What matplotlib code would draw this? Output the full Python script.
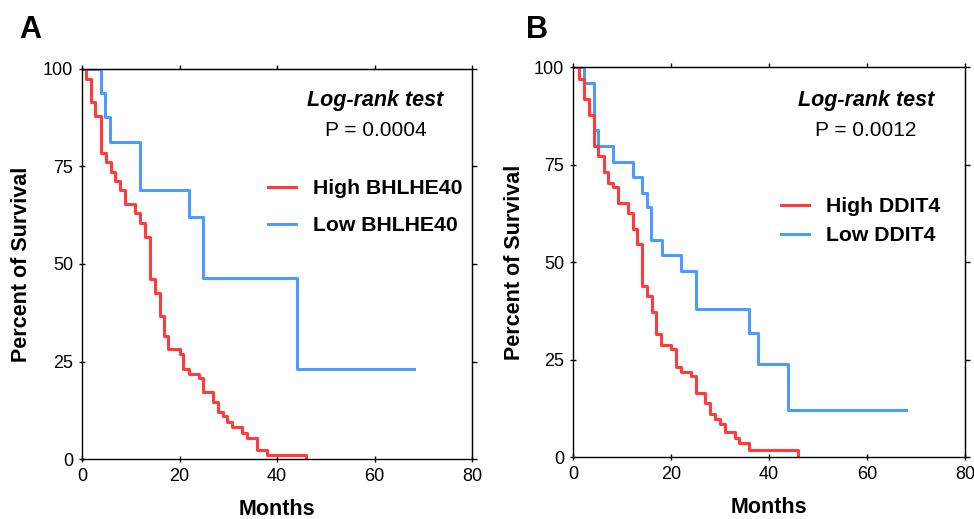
import matplotlib
matplotlib.use("Agg")
import matplotlib.pyplot as plt

plt.rcParams['font.family'] = ['Liberation Sans', 'DejaVu Sans']

# ---------------- data ----------------
a_high_t = [0, 0.8, 1.8, 2.7, 3.8, 4.9, 5.9, 6.8, 7.8, 8.8, 10.9, 11.9, 12.9, 14.0, 15.0,
            15.9, 16.8, 17.7, 20.0, 20.8, 22.0, 23.9, 24.8, 26.8, 27.9, 28.9, 29.8, 30.8,
            32.9, 33.9, 35.9, 37.9, 46.0]
a_high_s = [100, 97.4, 91.4, 87.8, 78.4, 76.0, 73.6, 71.2, 68.8, 65.4, 63.0, 60.5, 57.0, 46.2,
            42.6, 36.6, 31.6, 28.1, 26.9, 23.2, 21.9, 20.8, 17.1, 14.6, 12.1, 11.0, 9.5, 8.3,
            6.7, 5.4, 2.4, 1.2, 0]
a_low_t = [0, 3.8, 4.8, 5.7, 11.9, 22.0, 24.9, 44.0, 68.0]
a_low_s = [100, 93.7, 87.5, 81.2, 68.8, 62.0, 46.3, 23.1, 23.1]

b_high_t = [0, 1.2, 2.2, 3.3, 4.3, 5.2, 6.3, 7.1, 8.1, 9.1, 11.2, 12.2, 13.1, 14.1, 15.0,
            16.1, 17.0, 18.0, 20.0, 21.0, 22.0, 24.0, 25.0, 27.0, 28.0, 29.0, 30.0, 31.0,
            33.0, 33.9, 35.9, 45.9]
b_high_s = [100, 97.0, 91.9, 87.8, 79.8, 77.3, 73.2, 70.4, 69.4, 65.3, 62.6, 58.5, 54.7, 44.0,
            41.4, 37.2, 31.6, 28.8, 27.7, 23.2, 21.9, 20.8, 16.6, 13.8, 11.1, 9.8, 8.5, 6.6,
            5.0, 3.6, 1.9, 0]
b_low_t = [0, 2.3, 4.3, 5.2, 8.2, 12.2, 14.1, 15.1, 16.0, 18.1, 22.0, 25.1, 35.9, 37.8, 43.9, 68.0]
b_low_s = [100, 95.9, 83.9, 79.8, 75.8, 71.9, 67.9, 64.1, 55.8, 52.0, 47.8, 38.1, 31.9, 23.9, 12.1, 12.1]

x_ticks = [0, 20, 40, 60, 80]
y_ticks = [0, 25, 50, 75, 100]

panels = [
    dict(label='A', high_t=a_high_t, high_s=a_high_s, low_t=a_low_t, low_s=a_low_s,
         gene='BHLHE40', p='P = 0.0004'),
    dict(label='B', high_t=b_high_t, high_s=b_high_s, low_t=b_low_t, low_s=b_low_s,
         gene='DDIT4', p='P = 0.0012'),
]

RED = '#FF3B3B'
BLUE = '#4D9BFF'

fig = plt.figure(figsize=(9.74, 5.19), dpi=100)
axes_rects = [[0.0842, 0.115, 0.4004, 0.753], [0.5883, 0.119, 0.4025, 0.751]]
legend_anchor = [(0.477, 0.716), (0.531, 0.667)]
legend_spacing = [0.84, 0.48]
text_pos = [(60.2, 91.9, 84.2), (59.8, 91.6, 83.9)]
ylabel_x = [-0.156, -0.1505]
panel_label_x = [0.031, 0.551]

for i, pn in enumerate(panels):
    ax = fig.add_axes(axes_rects[i])
    lb, = ax.step(pn['low_t'], pn['low_s'], where='post', color=BLUE, lw=2.2)
    lh, = ax.step(pn['high_t'], pn['high_s'], where='post', color=RED, lw=2.2)
    ax.set_xlim(0, 80)
    ax.set_ylim(0, 100)
    ax.set_xticks(x_ticks)
    ax.set_yticks(y_ticks)
    ax.set_xticklabels([str(v) for v in x_ticks], fontsize=13)
    ax.set_yticklabels([str(v) for v in y_ticks], fontsize=13)
    ax.tick_params(direction='inout', length=4.5, width=1.0, pad=4)
    for s in ax.spines.values():
        s.set_linewidth(1.0)
    top = ax.secondary_xaxis('top')
    top.set_xticks(x_ticks)
    top.tick_params(direction='out', length=3, width=1.0, labeltop=False)
    right = ax.secondary_yaxis('right')
    right.set_yticks(y_ticks)
    right.tick_params(direction='out', length=3.5, width=1.0, labelright=False)

    ax.set_xlabel('Months', fontsize=15.5, fontweight='bold', va='center')
    ax.xaxis.set_label_coords(0.5, -0.128)
    ax.set_ylabel('Percent of Survival', fontsize=15.5, fontweight='bold', va='center')
    ax.yaxis.set_label_coords(ylabel_x[i], 0.5)

    tx, ty1, ty2 = text_pos[i]
    ax.text(tx, ty1, 'Log-rank test', fontsize=15.5, fontweight='bold', fontstyle='italic',
            ha='center', va='center')
    ax.text(tx, ty2, pn['p'], fontsize=15, ha='center', va='center')

    ax.legend([lh, lb], ['High ' + pn['gene'], 'Low ' + pn['gene']],
              loc='upper left', bbox_to_anchor=legend_anchor[i], frameon=False,
              prop={'weight': 'bold', 'size': 15.3}, handlelength=1.32,
              handletextpad=0.79, borderpad=0, borderaxespad=0,
              labelspacing=legend_spacing[i])

    fig.text(panel_label_x[i], 0.927, pn['label'], fontsize=22, fontweight='bold',
             ha='center', va='baseline')

fig.savefig('out.png', dpi=100)
